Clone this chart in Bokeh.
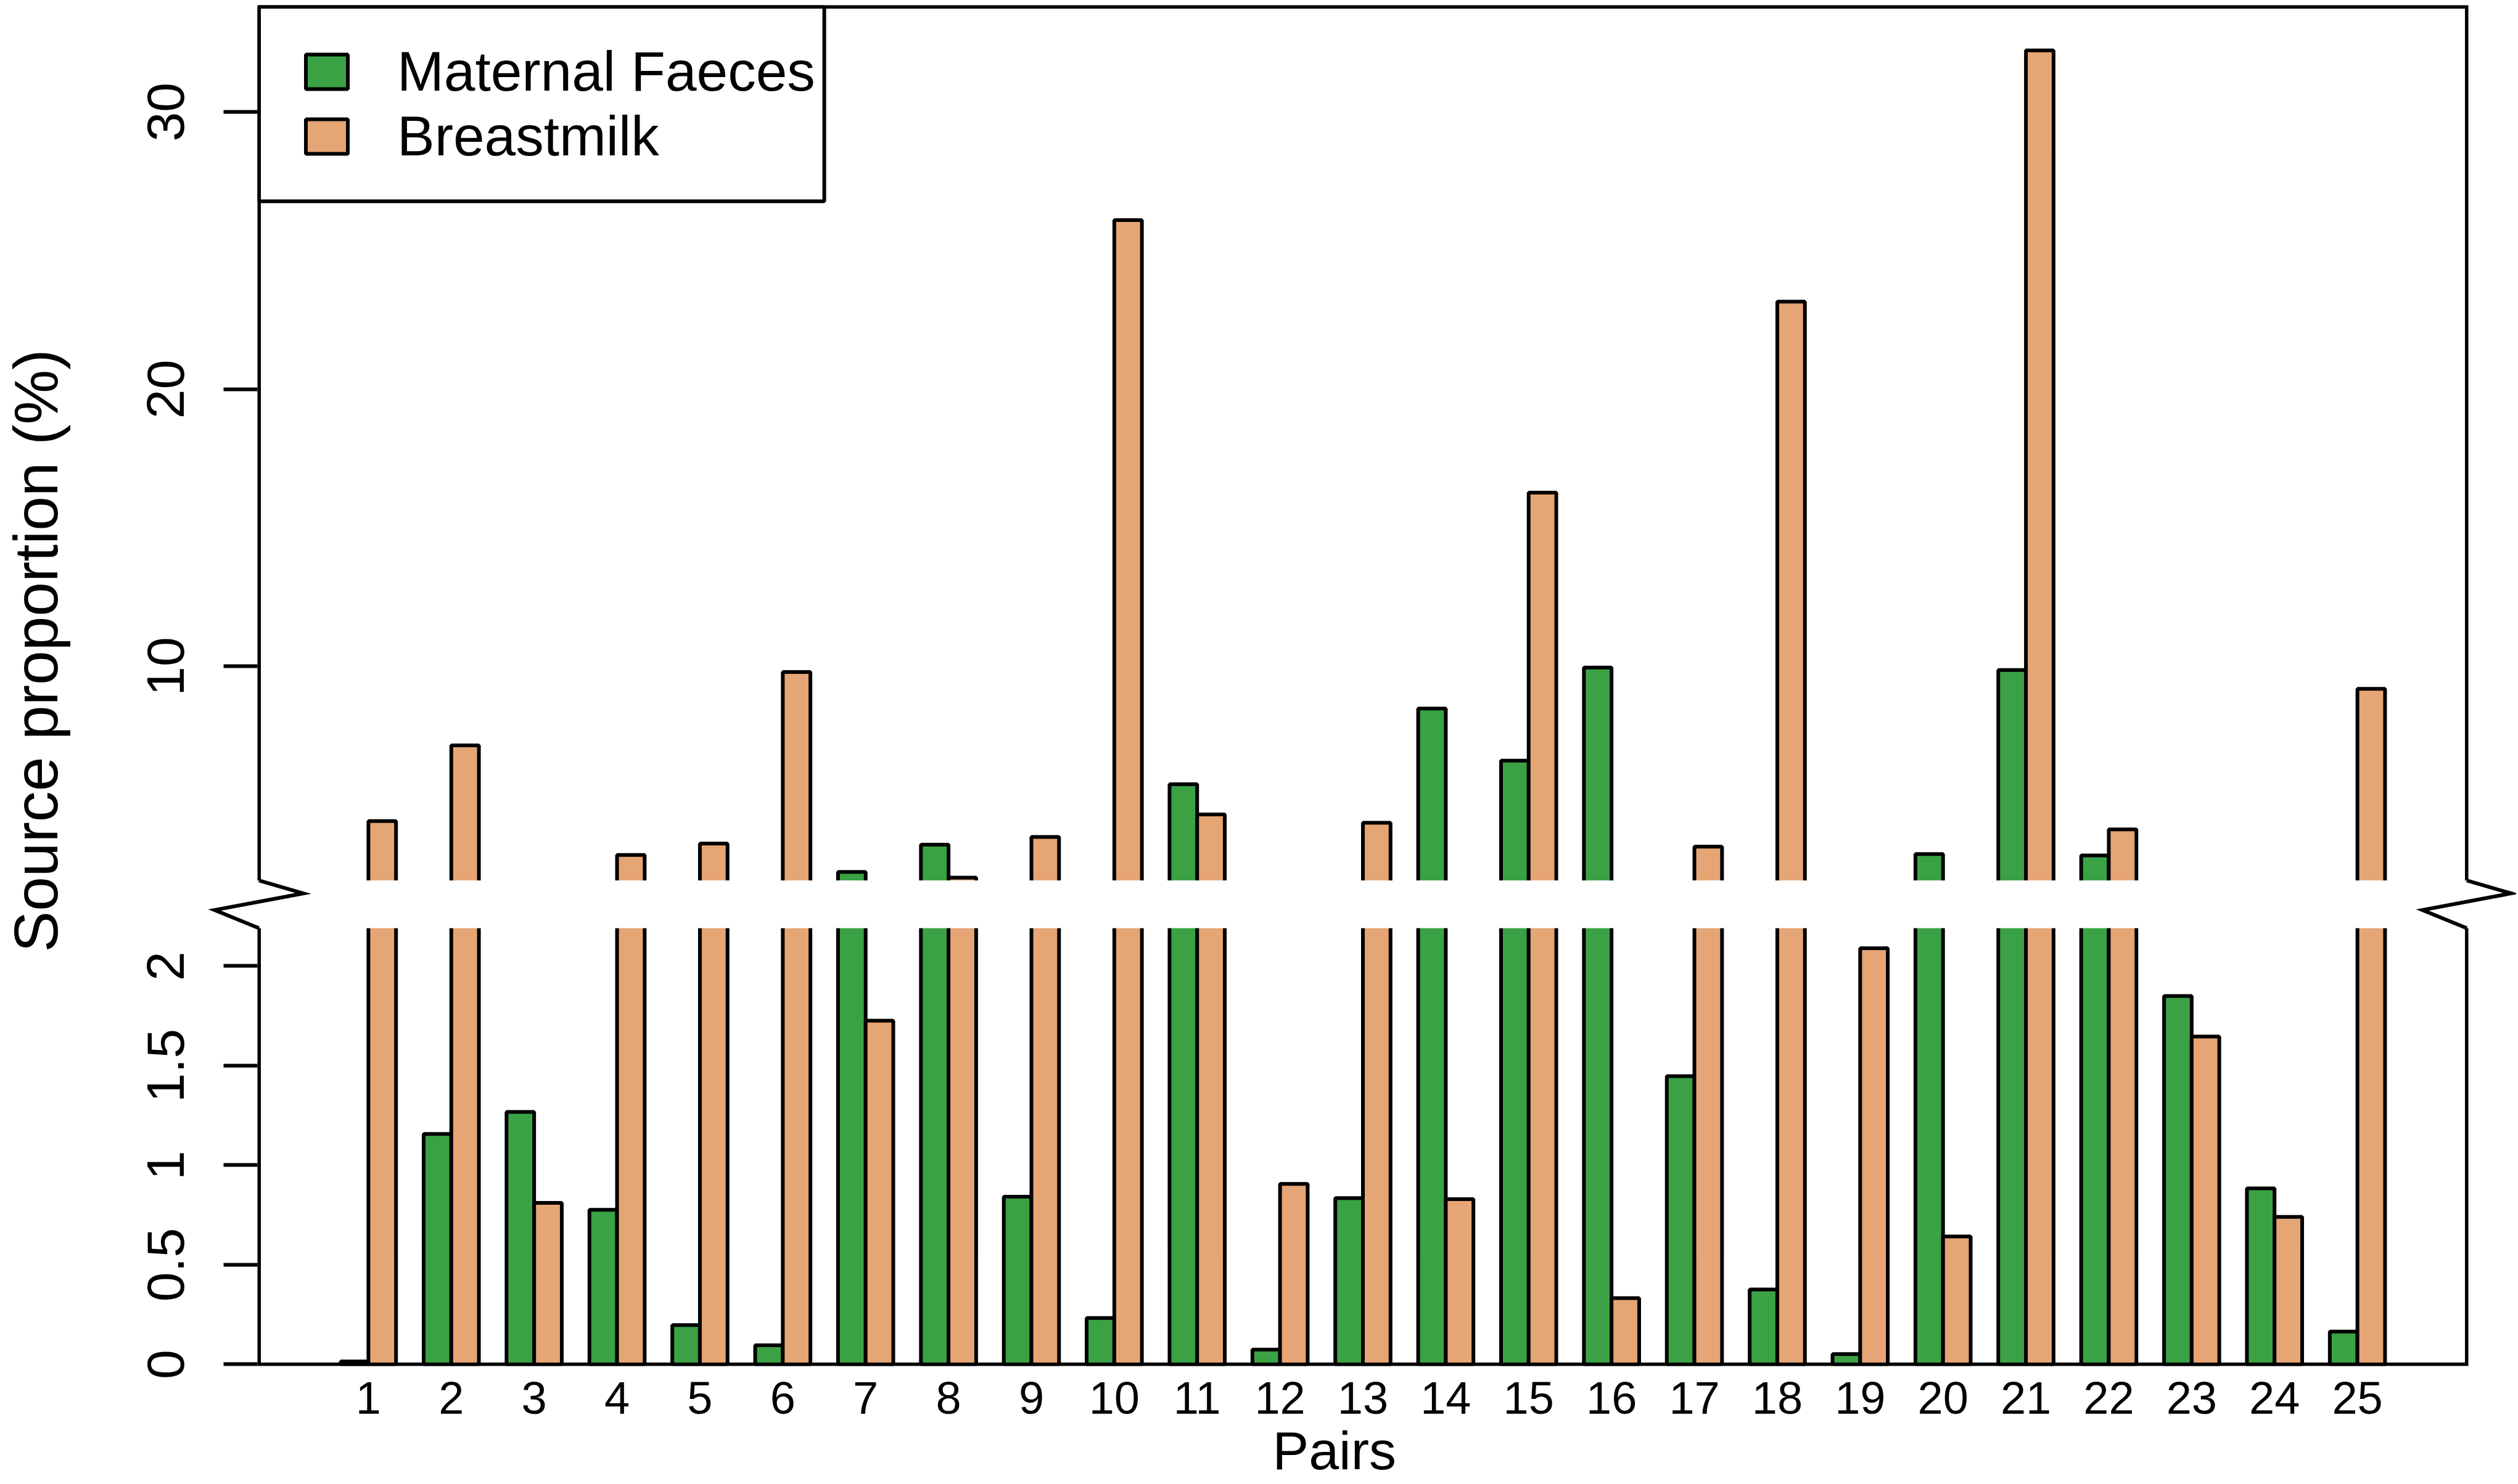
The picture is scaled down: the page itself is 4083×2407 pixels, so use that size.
import math
from bokeh.plotting import figure
from bokeh.models import (ColumnDataSource, FixedTicker, Range1d, Legend,
                          LegendItem, BoxAnnotation)
from bokeh.core.properties import value
from bokeh.embed import file_html
from bokeh.resources import INLINE

# ---------------- data ----------------
pairs = [str(i) for i in range(1, 26)]
maternal_faeces = [0.015, 1.157, 1.268, 0.776, 0.197, 0.096, 2.59, 3.57, 0.842, 0.233,
                   5.75, 0.074, 0.835, 8.48, 6.60, 9.96, 1.447, 0.376, 0.052, 3.23,
                   9.87, 3.18, 1.850, 0.884, 0.165]
breastmilk = [4.42, 7.15, 0.811, 3.20, 3.61, 9.80, 1.726, 2.38, 3.85, 26.1,
              4.66, 0.906, 4.36, 0.830, 16.27, 0.333, 3.50, 23.16, 2.090, 0.642,
              32.22, 4.12, 1.646, 0.741, 9.19]
lower_ticks = [0, 0.5, 1, 1.5, 2]
lower_tick_labels = ["0", "0.5", "1", "1.5", "2"]
upper_ticks = [10, 20, 30]
upper_tick_labels = ["10", "20", "30"]
series_names = ["Maternal Faeces", "Breastmilk"]
x_title = "Pairs"
y_title = "Source proportion (%)"

GREEN = "#3aa244"
TAN = "#e5a575"
FONT = "Liberation Sans"
LW = 6

# ---------------- broken y axis ----------------
LOWER_TOP = 2.19          # lower panel shows 0 .. 2.19
UPPER_BASE_VALUE = 2.28   # upper panel starts at this value
UPPER_BASE_POS = 2.43     # ... drawn at this position
UPPER_SCALE = 0.1392      # compression of the upper panel


def to_pos(v):
    if v <= LOWER_TOP:
        return v
    return UPPER_BASE_POS + (v - UPPER_BASE_VALUE) * UPPER_SCALE


n = len(pairs)
group_center = [3 * i + 2 for i in range(n)]
x_green = [c - 0.5 for c in group_center]
x_tan = [c + 0.5 for c in group_center]

# plot box (R barplot style xlim)
BOX_L, BOX_R = -1.96, 77.96
PX_X = 44.79
PX_Y = 323.0
BOX_TOP = 6.817
x_start = BOX_L - 2.5 / PX_X
x_end = BOX_R + 2.5 / PX_X
y_start = -2.5 / PX_Y
y_end = BOX_TOP + 2.5 / PX_Y

W, H = 4080, 2404
FL, FT, FW, FH = 417, 8, 3585, 2207

p = figure(width=W, height=H, x_range=Range1d(x_start, x_end),
           y_range=Range1d(y_start, y_end), output_backend="svg",
           toolbar_location=None, min_border_left=FL,
           min_border_right=W - FL - FW, min_border_top=FT,
           min_border_bottom=H - FT - FH)
p.xgrid.visible = False
p.ygrid.visible = False
p.outline_line_color = None
p.background_fill_color = "white"
p.border_fill_color = "white"

src = ColumnDataSource(dict(
    xg=x_green, xt=x_tan,
    g=[to_pos(v) for v in maternal_faeces],
    t=[to_pos(v) for v in breastmilk],
))
rg = p.vbar(x="xg", top="g", bottom=0, width=1, source=src,
            fill_color=GREEN, line_color="black", line_width=LW)
rt = p.vbar(x="xt", top="t", bottom=0, width=1, source=src,
            fill_color=TAN, line_color="black", line_width=LW)

# gap band
p.quad(left=x_start, right=x_end, bottom=LOWER_TOP, top=UPPER_BASE_POS,
       fill_color="white", line_color=None)

# box, broken at the gap
p.multi_line(xs=[[BOX_L, BOX_L, BOX_R, BOX_R], [BOX_L, BOX_L, BOX_R, BOX_R]],
             ys=[[LOWER_TOP, 0, 0, LOWER_TOP],
                 [UPPER_BASE_POS, BOX_TOP, BOX_TOP, UPPER_BASE_POS]],
             line_color="black", line_width=LW, line_join="miter")

# zigzag break marks
dz = 72 / PX_X
gap = UPPER_BASE_POS - LOWER_TOP
zA, zB, zC, zD = UPPER_BASE_POS, UPPER_BASE_POS - 0.27 * gap, UPPER_BASE_POS - 0.62 * gap, LOWER_TOP
for xb in (BOX_L, BOX_R):
    p.line(x=[xb, xb + dz, xb - dz, xb], y=[zA, zB, zC, zD],
           line_color="black", line_width=LW, line_join="miter", level="overlay")

# legend frame (R legend box in the top-left corner)
LEG_RIGHT = x_start + (1336 - FL) / PX_X
LEG_BOTTOM = (2212.5 - 326) / PX_Y
p.add_layout(BoxAnnotation(left=BOX_L, right=LEG_RIGHT, bottom=LEG_BOTTOM, top=BOX_TOP,
                           fill_color="white", fill_alpha=1.0, line_color="black",
                           line_alpha=1.0, line_width=LW, level="overlay"))

# x axis
xa = p.xaxis[0]
xa.ticker = FixedTicker(ticks=group_center)
xa.major_label_overrides = {c: lab for c, lab in zip(group_center, pairs)}
xa.axis_line_color = None
xa.major_tick_line_color = None
xa.minor_tick_line_color = None
xa.major_label_text_font = FONT
xa.major_label_text_font_size = "74px"
xa.major_label_text_color = "black"
xa.major_label_standoff = 20

# y axis
ytick_pos = [round(to_pos(v), 6) for v in lower_ticks + upper_ticks]
ytick_lab = lower_tick_labels + upper_tick_labels
ya = p.yaxis[0]
ya.ticker = FixedTicker(ticks=ytick_pos)
ya.major_label_overrides = {t: lab for t, lab in zip(ytick_pos, ytick_lab)}
ya.major_label_orientation = "vertical"
ya.axis_line_color = None
ya.major_tick_out = 55
ya.major_tick_in = 0
ya.major_tick_line_width = LW
ya.major_tick_line_color = "black"
ya.minor_tick_line_color = None
ya.major_label_text_font = FONT
ya.major_label_text_font_size = "86px"
ya.major_label_text_color = "black"
ya.major_label_standoff = 64

# axis titles (R mtext placement), anchored at their middle line
p.text(x=[x_start + (2163 - FL) / PX_X], y=[(2212.5 - 2352) / PX_Y], text=[x_title],
       text_font=value(FONT), text_font_size="88px", text_color="black",
       text_align="center", text_baseline="middle", level="overlay")
p.text(x=[x_start + (58 - FL) / PX_X], y=[(2212.5 - 1055) / PX_Y], text=[y_title],
       angle=math.pi / 2, text_font=value(FONT), text_font_size="100px",
       text_color="black", text_align="center", text_baseline="middle",
       level="overlay")

legend = Legend(items=[LegendItem(label=series_names[0], renderers=[rg]),
                       LegendItem(label=series_names[1], renderers=[rt])],
                location=(70, 1942), margin=0, padding=0, spacing=0,
                glyph_width=85, glyph_height=70, label_standoff=72,
                label_height=105, label_text_font=FONT,
                label_text_font_size="91px", label_text_color="black",
                border_line_color=None, background_fill_alpha=0.0)
p.add_layout(legend)

open("out.html", "w").write(file_html(p, INLINE))
